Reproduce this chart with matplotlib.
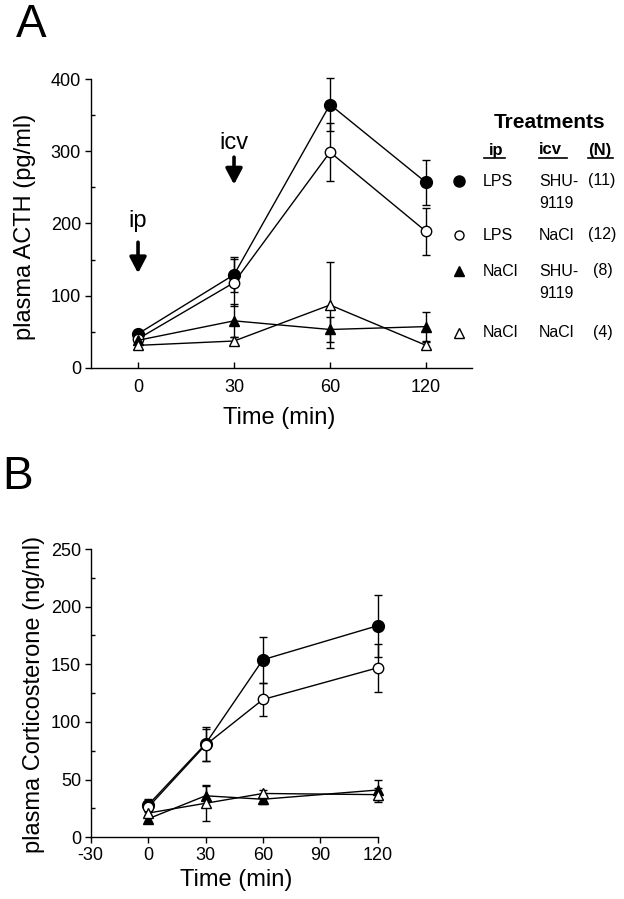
import numpy as np
import matplotlib
matplotlib.use("Agg")
import matplotlib.pyplot as plt
from matplotlib.lines import Line2D

plt.rcParams['font.family'] = ['Liberation Sans', 'DejaVu Sans']
plt.rcParams['axes.unicode_minus'] = False

# --- Panel A: plasma ACTH (pg/ml), categorical time axis ---
times_a = ["0", "30", "60", "120"]
acth_lps_shu = [47, 129, 365, 257]
acth_lps_shu_err = [5, 24, 37, 31]
acth_lps_nacl = [40, 118, 299, 189]
acth_lps_nacl_err = [4, 33, 40, 33]
acth_nacl_shu = [38, 65, 53, 57]
acth_nacl_shu_err = [4, 23, 18, 20]
acth_nacl_nacl = [31, 37, 87, 31]
acth_nacl_nacl_err = [3, 5, 59, 5]

# --- Panel B: plasma corticosterone (ng/ml), numeric time axis ---
times_b = [0, 30, 60, 120]
cort_lps_shu = [28, 81, 154, 183.5]
cort_lps_shu_err = [5, 15, 20, 27]
cort_lps_nacl = [26, 80, 119.5, 147]
cort_lps_nacl_err = [4, 14, 14, 21]
cort_nacl_shu = [16, 36, 33, 41]
cort_nacl_shu_err = [3, 9, 4, 9]
cort_nacl_nacl = [21, 29.5, 38, 37]
cort_nacl_nacl_err = [3, 15, 3, 6]

# legend rows: ip, icv, N
legend_ip = ["LPS", "LPS", "NaCl", "NaCl"]
legend_icv = ["SHU-\n9119", "NaCl", "SHU-\n9119", "NaCl"]
legend_n = ["(11)", "(12)", "(8)", "(4)"]

W, H = 624, 899
fig = plt.figure(figsize=(W / 100, H / 100), dpi=100)


def fx(x):
    return x / W


def fy(y):
    return 1 - y / H


styles = [
    dict(marker="o", mfc="black", mec="black", ms=8.5),
    dict(marker="o", mfc="white", mec="black", ms=7.5),
    dict(marker="^", mfc="black", mec="black", ms=7),
    dict(marker="^", mfc="white", mec="black", ms=7),
]


def draw_series(ax, x, series):
    for (vals, errs), st in zip(series, styles):
        ax.errorbar(x, vals, yerr=errs, color="black", lw=1.0, elinewidth=1.0,
                    capsize=3, capthick=1.0, mew=1.0, clip_on=False, **st)


def style_axes(ax):
    for s in ("top", "right"):
        ax.spines[s].set_visible(False)
    for s in ("left", "bottom"):
        ax.spines[s].set_linewidth(1.0)
    ax.tick_params(axis="both", labelsize=13, width=1.0, length=4, pad=3)
    ax.tick_params(axis="y", which="minor", direction="in", length=3, width=1.0)


# ---------------- Panel A ----------------
axA = fig.add_axes([fx(90.7), fy(367.7), (471.7 - 90.7) / W, 288.4 / H])
xa = np.arange(len(times_a))
draw_series(axA, xa, [(acth_lps_shu, acth_lps_shu_err),
                      (acth_lps_nacl, acth_lps_nacl_err),
                      (acth_nacl_shu, acth_nacl_shu_err),
                      (acth_nacl_nacl, acth_nacl_nacl_err)])
axA.set_xlim(-0.493, 3.476)
axA.set_ylim(0, 400)
axA.set_xticks(xa)
axA.set_xticklabels(times_a)
axA.set_yticks([0, 100, 200, 300, 400])
axA.set_yticks([50, 150, 250, 350], minor=True)
style_axes(axA)
axA.tick_params(axis="x", direction="in", pad=8)
axA.tick_params(axis="y", which="major", direction="out")
axA.set_ylabel("plasma ACTH (pg/ml)", fontsize=17)
axA.yaxis.set_label_coords((36 - 90.7) / 381, 0.49)

# injection arrows
arrow_kw = dict(arrowstyle="-|>,head_width=0.5,head_length=0.95", color="black",
                lw=2.6, shrinkA=0, shrinkB=0)
axA.annotate("", xy=(0, 131), xytext=(0, 174), arrowprops=arrow_kw)
axA.text(0, 203, "ip", ha="center", va="center", fontsize=17)
axA.annotate("", xy=(1, 254), xytext=(1, 292), arrowprops=arrow_kw)
axA.text(1, 311, "icv", ha="center", va="center", fontsize=17)

fig.text(fx(279), fy(418), "Time (min)", ha="center", va="center", fontsize=17)
fig.text(fx(16), fy(25), "A", ha="left", va="center", fontsize=33)

# legend (Treatments)
fig.text(fx(550), fy(122), "Treatments", ha="center", va="center",
         fontsize=15, fontweight="bold")
headers = [("ip", 489, 484, 505), ("icv", 539, 539, 567), ("(N)", 588, 588, 613)]
for txt, xl, u0, u1 in headers:
    fig.text(fx(xl), fy(150), txt, ha="left", va="center", fontsize=12,
             fontweight="bold")
    fig.add_artist(Line2D([fx(u0), fx(u1)], [fy(158), fy(158)], color="black",
                          lw=1.2, transform=fig.transFigure))

row_y = [181, 235, 271, 333]
n_x = [588, 588, 593, 593]
legend_ms = [8, 6.5, 6.5, 6.5]
for i, st in enumerate(styles):
    y = row_y[i]
    mst = dict(st)
    mst["ms"] = legend_ms[i]
    fig.add_artist(Line2D([fx(459)], [fy(y)], ls="none", mew=1.0,
                          transform=fig.transFigure, **mst))
    fig.text(fx(483), fy(y), legend_ip[i], ha="left", va="center", fontsize=11.5)
    lines = legend_icv[i].split("\n")
    for k, ln in enumerate(lines):
        fig.text(fx(539), fy(y + 22 * k), ln, ha="left", va="center", fontsize=11.5)
    fig.text(fx(n_x[i]), fy(y), legend_n[i], ha="left", va="center", fontsize=11.5)

# ---------------- Panel B ----------------
axB = fig.add_axes([fx(90.7), fy(837.3), (377.7 - 90.7) / W, 288.3 / H])
draw_series(axB, times_b, [(cort_lps_shu, cort_lps_shu_err),
                           (cort_lps_nacl, cort_lps_nacl_err),
                           (cort_nacl_shu, cort_nacl_shu_err),
                           (cort_nacl_nacl, cort_nacl_nacl_err)])
axB.set_xlim(-30, 120)
axB.set_ylim(0, 250)
axB.set_xticks([-30, 0, 30, 60, 90, 120])
axB.set_yticks([0, 50, 100, 150, 200, 250])
axB.set_yticks([25, 75, 125, 175, 225], minor=True)
style_axes(axB)
axB.tick_params(axis="both", which="major", direction="out")
axB.set_ylabel("plasma Corticosterone (ng/ml)", fontsize=17)
axB.yaxis.set_label_coords((45 - 90.7) / 287, 0.497)

fig.text(fx(236), fy(880), "Time (min)", ha="center", va="center", fontsize=17)
fig.text(fx(2), fy(477), "B", ha="left", va="center", fontsize=33)

fig.savefig("out.png", dpi=100)
